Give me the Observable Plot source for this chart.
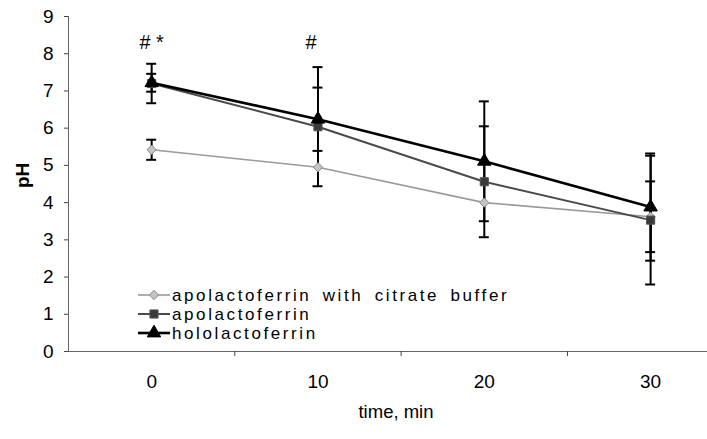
<!DOCTYPE html>
<html><head><meta charset="utf-8">
<script src="https://cdn.jsdelivr.net/npm/d3@7"></script>
<script src="https://cdn.jsdelivr.net/npm/@observablehq/plot@0.6"></script>
<style>
html,body{margin:0;padding:0;background:#fff;}
#wrap{position:relative;width:707px;height:439px;font-family:"Liberation Sans",Arial,Helvetica,sans-serif;}
#legend{position:absolute;left:0;top:0;pointer-events:none;}
</style></head><body><div id="wrap"></div>
<script>
// ---- data ----
const times = [0, 10, 20, 30];
const seriesNames = ["apolactoferrin with citrate buffer", "apolactoferrin", "hololactoferrin"];
const citrateVals = [5.42, 4.95, 4.0, 3.62];
const citrateErr  = [0.27, 0, 0, 0.95];
const apoVals     = [7.2, 6.04, 4.56, 3.53];
const apoErr      = [0.53, 1.6, 1.49, 1.73];
const holoVals    = [7.22, 6.24, 5.11, 3.88];
const holoErr     = [0.24, 0.85, 1.61, 1.44];
const yTicks = [0, 1, 2, 3, 4, 5, 6, 7, 8, 9];
const xTickLabels = ["0", "10", "20", "30"];
const annX = [0, 10];
const annY = [8.3, 8.3];
const annText = ["# *", "#"];

// ---- styles ----
const styles = {
  "apolactoferrin with citrate buffer": {line: "#9a9a9a", width: 1.6, symbol: "diamond2", fill: "#c4c4c4", stroke: "#8a8a8a", r: 4.2},
  "apolactoferrin": {line: "#4a4a4a", width: 2, symbol: "square", fill: "#3a3a3a", stroke: "#555", r: 4.6},
  "hololactoferrin": {line: "#000", width: 2.6, symbol: "triangle", fill: "#000", stroke: "#000", r: 5}
};
const valsBy = [citrateVals, apoVals, holoVals];
const errBy = [citrateErr, apoErr, holoErr];
const rows = [];
seriesNames.forEach((s, si) => times.forEach((t, i) => rows.push({series: s, time: t, ph: valsBy[si][i], err: errBy[si][i]})));
const errRows = rows.filter(d => d.err > 0);
const capHalf = 0.3;

const marks = [
  Plot.ruleY([0], {stroke: "#666", strokeWidth: 1}),
  Plot.ruleX([-5], {stroke: "#666", strokeWidth: 1}),
  Plot.axisY({ticks: yTicks, tickSize: 4, tickPadding: 11, fontSize: 19, label: null, stroke: "#444"}),
  Plot.axisX({ticks: [5, 15, 25], tickSize: 5, tickFormat: () => "", label: null, stroke: "#444"}),
  Plot.axisX({ticks: times, tickSize: 0, tickPadding: 23, fontSize: 19, label: null, tickFormat: (d) => xTickLabels[times.indexOf(d)]}),
  // error bars
  Plot.ruleX(errRows, {x: "time", y1: d => d.ph - d.err, y2: d => d.ph + d.err, stroke: "#000", strokeWidth: 2}),
  Plot.ruleY(errRows, {x1: d => d.time - capHalf, x2: d => d.time + capHalf, y: d => d.ph - d.err, stroke: "#000", strokeWidth: 2}),
  Plot.ruleY(errRows, {x1: d => d.time - capHalf, x2: d => d.time + capHalf, y: d => d.ph + d.err, stroke: "#000", strokeWidth: 2})
];
seriesNames.forEach(s => {
  const st = styles[s];
  const data = rows.filter(d => d.series === s);
  marks.push(Plot.line(data, {x: "time", y: "ph", stroke: st.line, strokeWidth: st.width}));
});
seriesNames.forEach(s => {
  const st = styles[s];
  const data = rows.filter(d => d.series === s);
  marks.push(Plot.dot(data, {x: "time", y: "ph", symbol: () => st.symbol, r: st.r, fill: st.fill, stroke: st.stroke, strokeWidth: 1}));
});
marks.push(Plot.text([0], {x: i => annX[i], y: i => annY[i], text: i => annText[i], fontSize: 20, fill: "#000"}));
marks.push(Plot.text([1], {x: i => annX[i], y: i => annY[i], text: i => annText[i], fontSize: 20, fill: "#000", dx: -7}));
marks.push(Plot.text(["pH"], {frameAnchor: "left", dx: -46, dy: 4, rotate: -90, fontSize: 19, fontWeight: "bold", fill: "#000"}));
marks.push(Plot.text(["time, min"], {frameAnchor: "bottom", dy: 66, dx: 8, fontSize: 18.5, fill: "#000"}));

const chart = Plot.plot({
  width: 707, height: 439,
  marginLeft: 68, marginRight: 0, marginTop: 16, marginBottom: 88,
  style: {fontFamily: '"Liberation Sans", Arial, Helvetica, sans-serif', color: "#000", background: "#fff", overflow: "visible"},
  x: {domain: [-5, 33.42], axis: null},
  y: {domain: [0, 9], axis: null},
  symbol: {type: "identity"},
  marks
});
document.getElementById("wrap").appendChild(chart);

// ---- legend overlay ----
const leg = d3.select("#wrap").append("svg").attr("id", "legend").attr("width", 707).attr("height", 439);
const rowY = [295, 314, 333];
const d3sym = {diamond2: d3.symbolDiamond2, square: d3.symbolSquare, triangle: d3.symbolTriangle};
seriesNames.forEach((s, i) => {
  const st = styles[s];
  const g = leg.append("g").attr("transform", `translate(0,${rowY[i]})`);
  g.append("line").attr("x1", 138).attr("x2", 170).attr("y1", 0).attr("y2", 0).attr("stroke", st.line).attr("stroke-width", st.width);
  g.append("path").attr("transform", "translate(154,0)")
    .attr("d", d3.symbol().type(d3sym[st.symbol]).size(Math.PI * st.r * st.r)())
    .attr("fill", st.fill).attr("stroke", st.stroke);
  g.append("text").attr("x", 172).attr("y", 6).text(s)
    .attr("font-size", 17).attr("letter-spacing", "2.6px").attr("word-spacing", "4px")
    .attr("font-family", '"Liberation Sans", Arial, Helvetica, sans-serif').attr("fill", "#000");
});
</script></body></html>
